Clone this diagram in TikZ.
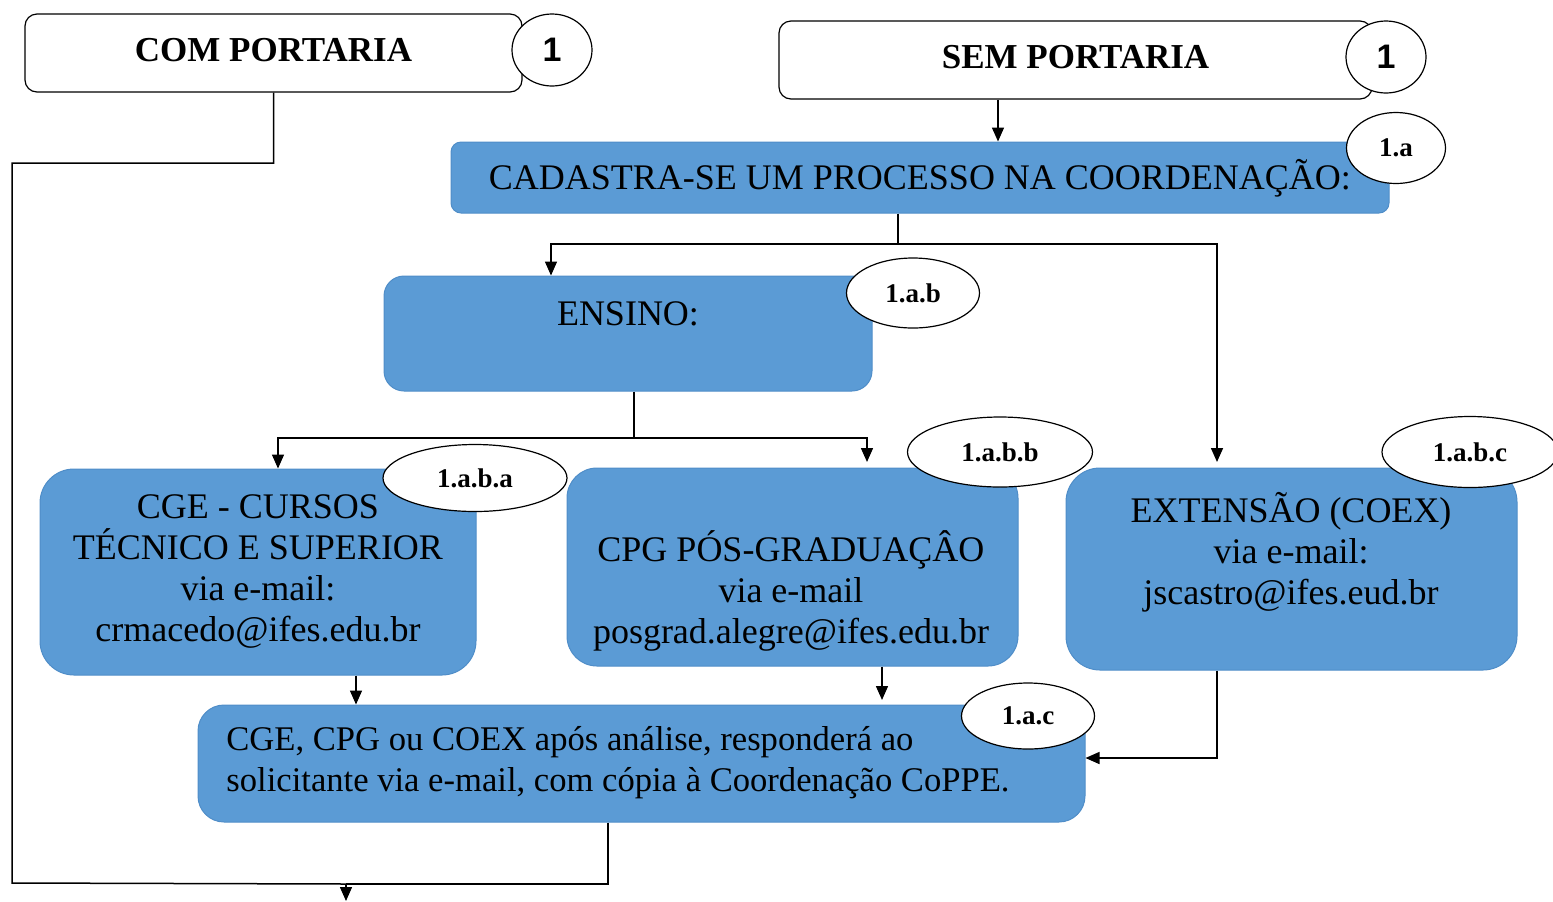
\documentclass[tikz,border=0pt]{standalone}
\usepackage{fontspec}
\setmainfont{Liberation Serif}
\newfontfamily\arialf{Liberation Sans}
\usetikzlibrary{shapes.geometric,arrows.meta}
\definecolor{boxblue}{HTML}{5B9BD5}
\definecolor{boxedge}{HTML}{4F8DC8}
\begin{document}
\begin{tikzpicture}[x=0.5pt,y=-0.5pt,
 wbox/.style={draw=black,line width=0.6pt,fill=white,rounded corners=6pt,inner sep=0pt},
 bbox/.style={draw=boxedge,line width=0.5pt,fill=boxblue,inner sep=0pt},
 tag/.style={ellipse,draw=black,line width=0.6pt,fill=white,inner sep=0pt,font=\bfseries\fontsize{13.5}{15}\selectfont},
 num/.style={ellipse,draw=black,line width=0.6pt,fill=white,inner sep=0pt,font=\arialf\bfseries\fontsize{17}{19}\selectfont},
 txt/.style={font=\fontsize{18}{20.5}\selectfont,align=center,inner sep=0pt},
 btxt/.style={font=\bfseries\fontsize{17.5}{19}\selectfont,inner sep=0pt},
 ln/.style={line width=0.75pt,draw=black},
 arr/.style={ln,-{Triangle[length=7pt,width=6pt]}}]
\useasboundingbox (0,0) rectangle (1553,901);
\clip (0,0) rectangle (1553,901);

% boxes
\node[wbox,minimum width=248.5pt,minimum height=39pt] (com) at (273.5,53) {};
\node[btxt] (comt) at (273.5,50) {COM PORTARIA};
\node[wbox,minimum width=296.5pt,minimum height=39pt] (sem) at (1075.5,60) {};
\node[btxt] (semt) at (1075.5,57) {SEM PORTARIA};

\node[bbox,rounded corners=5pt,minimum width=469pt,minimum height=35.5pt] (cad) at (920,177.5) {};
\node[txt] (cadt) at (920,178) {CADASTRA-SE UM PROCESSO NA COORDENAÇÃO:};

\node[bbox,rounded corners=10pt,minimum width=244pt,minimum height=57.5pt] (ens) at (628,333.5) {};
\node[txt] (enst) at (628,314) {ENSINO:};

\node[bbox,rounded corners=17pt,minimum width=218pt,minimum height=103pt] (cge) at (258,572) {};
\node[txt] (cget) at (258,571) {CGE - CURSOS\\TÉCNICO E SUPERIOR\\via e-mail:\\crmacedo@ifes.edu.br};

\node[bbox,rounded corners=15pt,minimum width=225.5pt,minimum height=99pt] (cpg) at (792.5,567) {};
\node[txt] (cpgt) at (791,591) {CPG PÓS-GRADUAÇÂO\\via e-mail\\posgrad.alegre@ifes.edu.br};

\node[bbox,rounded corners=17pt,minimum width=225.5pt,minimum height=101pt] (ext) at (1291.5,569) {};
\node[txt] (extt) at (1291,552) {EXTENSÃO (COEX)\\via e-mail:\\jscastro@ifes.eud.br};

\node[bbox,rounded corners=13pt,minimum width=443.5pt,minimum height=58.5pt] (fin) at (641.5,763.5) {};
\node[txt,font=\fontsize{17.3}{20.5}\selectfont,align=left,anchor=west] (fint) at (226,763) {CGE, CPG ou COEX após análise, responderá ao\\solicitante via e-mail, com cópia à Coordenação CoPPE.};

% junction coordinates
\coordinate (j1) at (898,244);
\coordinate (j2) at (634,438);
\coordinate (lw1) at (12,163);
\coordinate (lw2) at (12,883);
\coordinate (mid) at (346,884);
\coordinate (out) at (346,901);

% connectors
\draw[arr] (998,0 |- sem.south) -- (998,0 |- cad.north);
\draw[ln] (898,0 |- cad.south) -- (j1);
\draw[arr] (j1) -| (551,0 |- ens.north);
\draw[arr] (j1) -| (1217,462);
\draw[ln] (634,0 |- ens.south) -- (j2);
\draw[arr] (j2) -| (278,0 |- cge.north);
\draw[arr] (j2) -| (867,462);
\draw[arr] (356,0 |- cge.south) -- (356,0 |- fin.north);
\draw[arr] (882,0 |- cpg.south) -- (882,700);
\draw[arr] (1217,0 |- ext.south) |- (fin.east |- 0,758);
\draw[ln] (com.south) |- (lw1) -- (lw2) -- (mid);
\draw[ln] (608,0 |- fin.south) |- (mid);
\draw[arr] (mid) -- (out);

% tags
\node[num,minimum width=40pt,minimum height=36pt] (n1) at (552,50) {1};
\node[num,minimum width=40pt,minimum height=36pt] (n2) at (1386,57) {1};
\node[tag,minimum width=49.5pt,minimum height=35.5pt] (t1) at (1396,148) {1.a};
\node[tag,minimum width=66.5pt,minimum height=35pt] (t2) at (913,293) {1.a.b};
\node[tag,minimum width=92pt,minimum height=33.5pt] (t3) at (475,478) {1.a.b.a};
\node[tag,minimum width=92.5pt,minimum height=35pt] (t4) at (1000,452) {1.a.b.b};
\node[tag,minimum width=88pt,minimum height=35.5pt] (t5) at (1470,452) {1.a.b.c};
\node[tag,minimum width=66.5pt,minimum height=33pt] (t6) at (1028,716) {1.a.c};
\end{tikzpicture}
\end{document}
